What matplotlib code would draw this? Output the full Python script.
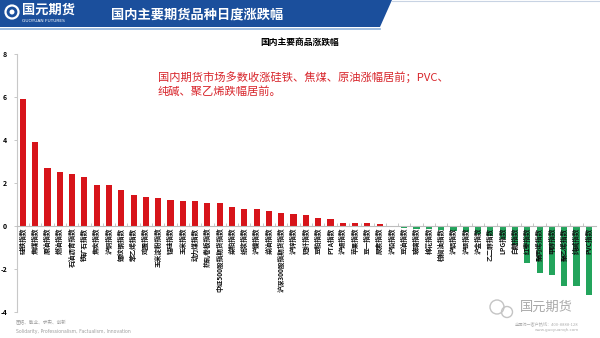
import numpy as np
import matplotlib.pyplot as plt
from matplotlib.patches import Polygon, Circle

plt.rcParams['font.family'] = ['Noto Sans CJK SC', 'DejaVu Sans']

# 品种与涨跌幅 (%)
names = [
    "硅铁指数", "焦煤指数", "原油指数", "燃油指数", "石油沥青指数", "铁矿石指数",
    "焦炭指数", "沪铜指数", "螺纹钢指数", "苯乙烯指数", "鸡蛋指数", "玉米淀粉指数",
    "锰硅指数", "玉米指数", "动力煤指数", "热轧卷板指数", "中证500股指期货指数",
    "菜粕指数", "纸浆指数", "沪镍指数", "菜油指数", "沪深300股指期货指数", "沪锌指数",
    "短纤指数", "豆粕指数", "PTA指数", "沪锡指数", "苹果指数", "豆一指数", "尿素指数",
    "沪铅指数", "豆油指数", "玻璃指数", "棉花指数", "棕榈油指数", "沪铝指数",
    "沪银指数", "沪金指数", "乙二醇指数", "LPG指数", "白糖指数", "红枣指数",
    "聚丙烯指数", "甲醇指数", "聚乙烯指数", "纯碱指数", "PVC指数",
]
changes = [
    5.92, 3.9, 2.68, 2.52, 2.4, 2.26, 1.91, 1.9, 1.66, 1.46, 1.34, 1.32,
    1.21, 1.18, 1.15, 1.09, 1.05, 0.9, 0.79, 0.78, 0.71, 0.6, 0.56,
    0.53, 0.36, 0.33, 0.15, 0.14, 0.12, 0.07, 0.0, -0.1, -0.12, -0.15,
    -0.2, -0.25, -0.3, -0.35, -0.45, -0.6, -0.9, -1.7, -2.2, -2.3, -2.8,
    -2.8, -3.2,
]
yticks = [-4, -2, 0, 2, 4, 6, 8]

chart_title = "国内主要商品涨跌幅"
header_title = "国内主要期货品种日度涨跌幅"
note = "国内期货市场多数收涨硅铁、焦煤、原油涨幅居前；PVC、\n纯碱、聚乙烯跌幅居前。"

W, H = 600, 338
fig = plt.figure(figsize=(W / 100, H / 100), dpi=100)

# overlay in pixel coordinates
bg = fig.add_axes([0, 0, 1, 1])
bg.set_xlim(0, W)
bg.set_ylim(H, 0)
bg.axis('off')

blue = '#1b4f9c'
bg.add_patch(Polygon([[0, 0], [392, 0], [380, 27], [0, 27]], closed=True,
                     facecolor=blue, edgecolor='none'))
bg.plot([0, 380], [28.5, 28.5], color='#8fb3dd', lw=1.2)
bg.plot([392, 600], [1, 1], color='#c8d3e3', lw=0.8)
bg.add_patch(Circle((12, 12), 6.5, facecolor='none', edgecolor='white', lw=1.6))
bg.add_patch(Circle((12, 12), 2.5, facecolor='white', edgecolor='none'))
bg.text(22, 10, "国元期货", color='white', fontsize=9.5, fontweight='bold',
        va='center', ha='left')
bg.text(22, 21, "GUOYUAN FUTURES", color='white', fontsize=3.2, va='center',
        ha='left', family=['DejaVu Sans'])
bg.text(111, 14, header_title, color='white', fontsize=9.5, fontweight='bold',
        va='center', ha='left')

bg.text(300, 42, chart_title, color='black', fontsize=6.3, fontweight='bold',
        va='center', ha='center')
bg.text(158, 84, note, color='#d8262c', fontsize=8.1, va='center', ha='left',
        linespacing=1.3)

bg.text(16, 323, "团结、敬业、求实、创新", color='#a0a0a0', fontsize=3.3,
        va='center', ha='left')
bg.text(16, 331, "Solidarity, Professionalism, Factualism, Innovation",
        color='#a0a0a0', fontsize=3.3, va='center', ha='left', family=['DejaVu Sans'])

bg.add_patch(Circle((497, 307), 7, facecolor='none', edgecolor='#c4c4c4', lw=1.0))
bg.add_patch(Circle((507, 312), 5.5, facecolor='none', edgecolor='#c4c4c4', lw=1.0))
bg.text(520, 307, "国元期货", color='#a9a9a9', fontsize=9.5, va='center', ha='left')
bg.text(579, 324, "全国统一客户热线：400-8888-128", color='#b0b0b0', fontsize=3,
        va='center', ha='right')
bg.text(579, 330, "www.guoyuanqh.com", color='#b0b0b0', fontsize=3,
        va='center', ha='right', family=['DejaVu Sans'])

# main chart
ax = fig.add_axes([16.7 / W, 1 - 312 / H, 579.5 / W, 258 / H])
ax.patch.set_alpha(0)
x = np.arange(len(names))
vals = np.array(changes)
colors = ['#d7141a' if v >= 0 else '#23a45c' for v in vals]
ax.bar(x, vals, width=0.5, color=colors, zorder=2)

ax.set_xlim(-0.5, len(names) - 0.4)
ax.set_ylim(-4, 8)
ax.set_yticks(yticks)
ax.set_yticklabels([str(t) for t in yticks], fontsize=5, fontweight='bold')
ax.tick_params(axis='y', length=2, width=0.6, color='#bfbfbf', pad=5)

for s in ['top', 'right']:
    ax.spines[s].set_visible(False)
ax.spines['left'].set_color('#c8c8c8')
ax.spines['left'].set_linewidth(0.8)
ax.spines['bottom'].set_position(('data', 0))
ax.spines['bottom'].set_color('#bdbdbd')
ax.spines['bottom'].set_linewidth(0.8)
ax.spines['bottom'].set_zorder(3)
ax.set_xticks(x[:-1] + 0.5)
ax.set_xticklabels([])
ax.tick_params(axis='x', direction='in', length=2, width=0.6, color='#bdbdbd')

for xi, name in zip(x, names):
    ax.text(xi, -0.08, name, rotation=90, ha='center', va='top', fontsize=4.8,
            fontweight='bold', color='#111111', zorder=4,
            family=['Noto Sans CJK SC', 'DejaVu Sans'])

fig.savefig("out.png", dpi=100)
